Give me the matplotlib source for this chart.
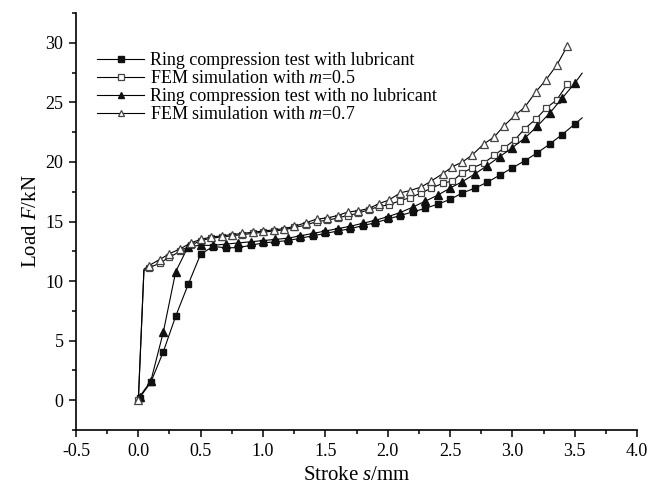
import numpy as np
import matplotlib
matplotlib.use('Agg')
import matplotlib.pyplot as plt
from matplotlib.ticker import MultipleLocator

plt.rcParams['font.family'] = ['Liberation Serif', 'DejaVu Serif']
plt.rcParams['mathtext.fontset'] = 'custom'
plt.rcParams['mathtext.rm'] = 'Liberation Serif'
plt.rcParams['mathtext.it'] = 'Liberation Serif:italic'

## ensayos de compresion de anillo (paso 0.1 mm)
x_exp = [0.01, 0.1, 0.2, 0.3, 0.4, 0.5, 0.6, 0.7, 0.8, 0.9, 1.0, 1.1, 1.2, 1.3, 1.4, 1.5,
         1.6, 1.7, 1.8, 1.9, 2.0, 2.1, 2.2, 2.3, 2.4, 2.5, 2.6, 2.7, 2.8, 2.9, 3.0, 3.1,
         3.2, 3.3, 3.4, 3.5, 3.56]
y_lub = [0.2, 1.5, 4.06, 7.06, 9.72, 12.27, 12.9, 12.8, 12.8, 13.0, 13.2, 13.3, 13.4, 13.6,
         13.8, 14.0, 14.2, 14.4, 14.65, 14.9, 15.2, 15.5, 15.8, 16.1, 16.45, 16.85, 17.4,
         17.8, 18.3, 18.9, 19.5, 20.1, 20.76, 21.5, 22.3, 23.17, 23.7]
y_nolub = [0.3, 1.6, 5.7, 10.8, 12.9, 13.0, 13.0, 13.1, 13.2, 13.3, 13.4, 13.5, 13.6, 13.8,
           14.0, 14.2, 14.4, 14.6, 14.85, 15.1, 15.4, 15.75, 16.2, 16.7, 17.2, 17.8, 18.35,
           19.0, 19.7, 20.45, 21.2, 22.0, 23.0, 24.1, 25.35, 26.6, 27.45]

## simulaciones FEM
x_fem = [0.0, 0.045, 0.085, 0.17, 0.25, 0.335, 0.42, 0.50, 0.585, 0.67, 0.75, 0.835, 0.92,
         1.00, 1.085, 1.17, 1.25, 1.345, 1.43, 1.515, 1.60, 1.68, 1.765, 1.85, 1.93, 2.01,
         2.10, 2.18, 2.27, 2.35, 2.44, 2.52, 2.60, 2.68, 2.77, 2.855, 2.93, 3.02, 3.10,
         3.19, 3.27, 3.355, 3.44]
y_m05 = [0.0, 10.9, 11.1, 11.5, 12.0, 12.5, 13.0, 13.4, 13.6, 13.7, 13.8, 13.9, 14.0, 14.1,
         14.2, 14.3, 14.5, 14.7, 15.0, 15.1, 15.3, 15.5, 15.7, 16.0, 16.25, 16.4, 16.75,
         17.0, 17.4, 17.8, 18.2, 18.4, 19.1, 19.5, 19.9, 20.55, 21.15, 21.85, 22.8, 23.6,
         24.5, 25.2, 26.5]
y_m07 = [0.0, 11.0, 11.3, 11.8, 12.3, 12.7, 13.2, 13.5, 13.7, 13.8, 13.9, 14.0, 14.1, 14.2,
         14.3, 14.4, 14.6, 14.9, 15.2, 15.3, 15.5, 15.8, 15.9, 16.1, 16.5, 16.8, 17.4,
         17.6, 17.9, 18.4, 19.0, 19.6, 20.0, 20.6, 21.5, 22.1, 23.0, 23.9, 24.6, 25.9,
         26.9, 28.1, 29.7]

etiquetas = ['Ring compression test with lubricant',
             r'FEM simulation with $\it{m}$=0.5',
             'Ring compression test with no lubricant',
             r'FEM simulation with $\it{m}$=0.7']

fig = plt.figure(figsize=(6.62, 4.92), dpi=100)
ax = fig.add_axes([76/662, 1-430/492, (637-76)/662, (430-13)/492])

mk_exp = list(range(len(x_exp) - 1))
mk_fem = [0] + list(range(2, len(x_fem)))
lw = 0.8
ax.plot(x_exp, y_lub, '-', color='k', lw=lw, marker='s', ms=5, mfc='#111111', mec='#111111',
        markevery=mk_exp, label=etiquetas[0])
ax.plot(x_fem, y_m05, '-', color='k', lw=lw, marker='s', ms=5, mfc='white', mec='#444444',
        mew=0.9, markevery=mk_fem, label=etiquetas[1])
ax.plot(x_exp, y_nolub, '-', color='k', lw=lw, marker='^', ms=5.5, mfc='#111111', mec='#111111',
        markevery=mk_exp, label=etiquetas[2])
ax.plot(x_fem, y_m07, '-', color='k', lw=lw, marker='^', ms=5.5, mfc='white', mec='#444444',
        mew=0.9, markevery=mk_fem, label=etiquetas[3])

ax.set_xlim(-0.5, 4.0)
ax.set_ylim(-2.5, 32.5)
ax.xaxis.set_minor_locator(MultipleLocator(0.25))
ax.yaxis.set_minor_locator(MultipleLocator(2.5))
ax.set_yticks([0, 5, 10, 15, 20, 25, 30])
ax.set_xticks(np.arange(-0.5, 4.01, 0.5))
ax.set_xticklabels(['%.1f' % v for v in np.arange(-0.5, 4.01, 0.5)])
for s in ['top', 'right']:
    ax.spines[s].set_visible(False)
for s in ['left', 'bottom']:
    ax.spines[s].set_linewidth(1.2)
ax.tick_params(which='major', direction='out', length=5, width=1.1, labelsize=13, pad=4)
ax.tick_params(which='minor', direction='out', length=3, width=1.1)

ax.set_xlabel(r'Stroke $\it{s}$/mm', fontsize=15, labelpad=5)
ax.set_ylabel(r'Load $\it{F}$/kN', fontsize=15, labelpad=3)

ax.legend(loc='upper left', bbox_to_anchor=(90/662, 1-45/492), bbox_transform=fig.transFigure,
          frameon=False, fontsize=13, handlelength=2.6, handletextpad=0.3, labelspacing=0.05,
          borderaxespad=0, markerscale=0.75)

fig.savefig('out.png', dpi=100)
